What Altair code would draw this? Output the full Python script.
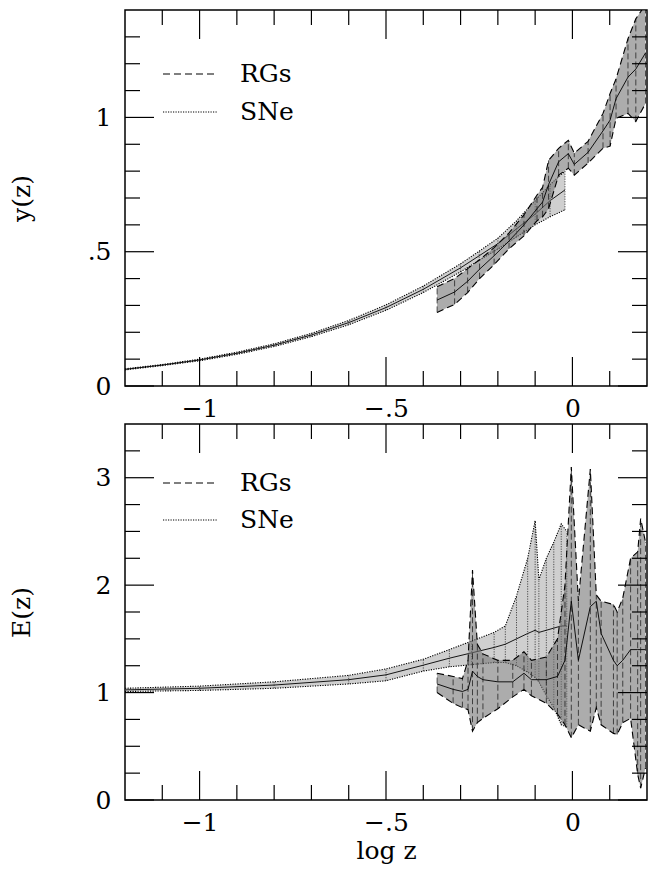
import altair as alt
import pandas as pd

# ---------------- data ----------------
# top panel: y(z) versus log z
top_rgs_lz = [-0.363, -0.316, -0.281, -0.249, -0.210, -0.170, -0.130, -0.095, -0.080, -0.064,
              -0.037, -0.011, 0.005, 0.042, 0.082, 0.101, 0.117, 0.149, 0.170, 0.196]
top_rgs_lo = [0.274, 0.304, 0.348, 0.400, 0.452, 0.511, 0.559, 0.615, 0.630, 0.660,
              0.785, 0.811, 0.785, 0.830, 0.885, 0.893, 0.996, 1.015, 0.985, 1.052]
top_rgs_hi = [0.370, 0.400, 0.437, 0.470, 0.515, 0.570, 0.637, 0.711, 0.740, 0.840,
              0.885, 0.915, 0.867, 0.911, 1.015, 1.089, 1.144, 1.293, 1.367, 1.420]
top_rgs_mid = [0.320, 0.350, 0.390, 0.435, 0.485, 0.540, 0.600, 0.660, 0.685, 0.750,
               0.835, 0.865, 0.825, 0.870, 0.950, 0.990, 1.070, 1.150, 1.180, 1.240]

top_sne_lz = [-1.20, -1.10, -1.00, -0.90, -0.80, -0.70, -0.60, -0.50, -0.40, -0.30,
              -0.25, -0.20, -0.15, -0.10, -0.06, -0.02]
top_sne_lo = [0.060, 0.076, 0.094, 0.118, 0.147, 0.184, 0.228, 0.282, 0.348, 0.425,
              0.468, 0.510, 0.555, 0.600, 0.630, 0.656]
top_sne_hi = [0.064, 0.080, 0.100, 0.126, 0.157, 0.196, 0.244, 0.302, 0.372, 0.455,
              0.502, 0.550, 0.615, 0.690, 0.750, 0.800]
top_sne_mid = [0.062, 0.078, 0.097, 0.122, 0.152, 0.190, 0.236, 0.292, 0.360, 0.440,
               0.485, 0.530, 0.585, 0.640, 0.690, 0.730]

# bottom panel: E(z) versus log z
bot_rgs_lz = [-0.363, -0.320, -0.295, -0.280, -0.268, -0.255, -0.240, -0.200, -0.160, -0.130,
              -0.110, -0.070, -0.040, -0.020, -0.003, 0.016, 0.048, 0.064, 0.077, 0.110,
              0.120, 0.135, 0.156, 0.175, 0.183, 0.196]
bot_rgs_lo = [1.00, 0.90, 0.86, 0.84, 0.64, 0.72, 0.76, 0.85, 0.96, 1.03,
              0.97, 0.90, 0.80, 0.70, 0.58, 0.70, 0.64, 0.86, 0.70, 0.62,
              0.61, 0.72, 0.76, 0.24, 0.11, 0.30]
bot_rgs_hi = [1.18, 1.15, 1.13, 1.30, 2.14, 1.45, 1.36, 1.30, 1.30, 1.38,
              1.30, 1.33, 1.50, 2.00, 3.10, 1.85, 3.08, 1.91, 1.85, 1.82,
              1.75, 1.88, 2.25, 2.31, 2.62, 2.40]
bot_rgs_mid = [1.08, 1.03, 1.01, 1.03, 1.20, 1.15, 1.12, 1.10, 1.10, 1.18,
               1.12, 1.12, 1.15, 1.30, 1.85, 1.30, 1.80, 1.85, 1.55, 1.30,
               1.25, 1.30, 1.40, 1.40, 1.40, 1.40]

bot_sne_lz = [-1.20, -1.00, -0.80, -0.60, -0.50, -0.40, -0.33, -0.27, -0.21, -0.18,
              -0.15, -0.12, -0.10, -0.09, -0.07, -0.05, -0.03, -0.015]
bot_sne_lo = [1.01, 1.02, 1.04, 1.08, 1.11, 1.20, 1.24, 1.26, 1.28, 1.28,
              1.25, 1.19, 1.14, 1.10, 0.97, 0.86, 0.70, 0.68]
bot_sne_hi = [1.04, 1.06, 1.10, 1.16, 1.22, 1.31, 1.40, 1.48, 1.56, 1.62,
              1.90, 2.25, 2.60, 2.05, 2.25, 2.40, 2.57, 2.50]
bot_sne_mid = [1.025, 1.04, 1.07, 1.12, 1.165, 1.255, 1.32, 1.37, 1.42, 1.45,
               1.50, 1.55, 1.58, 1.56, 1.58, 1.60, 1.62, 1.62]

# axes / ticks / labels
x_major = [-1.0, -0.5, 0.0]
x_major_text = ["\u22121", "\u2212.5", "0"]
x_minor = [-1.1, -0.9, -0.8, -0.7, -0.6, -0.4, -0.3, -0.2, -0.1, 0.1]

top_y_major = [0.0, 0.5, 1.0]
top_y_major_text = ["0", ".5", "1"]
top_y_minor = [0.1, 0.2, 0.3, 0.4, 0.6, 0.7, 0.8, 0.9, 1.1, 1.2, 1.3]

bot_y_major = [0.0, 1.0, 2.0, 3.0]
bot_y_major_text = ["0", "1", "2", "3"]
bot_y_minor = [0.25, 0.5, 0.75, 1.25, 1.5, 1.75, 2.25, 2.5, 2.75, 3.25]

legend_labels = ["RGs", "SNe"]

x_domain = [-1.2, 0.2]
top_y_domain = [0, 1.4]
bot_y_domain = [0, 3.5]

# ---------------- styling ----------------
FONT = "DejaVu Serif"
FS = 25
W, H = 522, 376
MAJ, MIN = 29, 15
DASH = [7, 4]
DOT = [1.2, 1.3]


def label_expr(vals, texts):
    expr = "''"
    for v, t in reversed(list(zip(vals, texts))):
        expr = f"abs(datum.value - ({v})) < 1e-6 ? '{t}' : ({expr})"
    return expr


def make_panel(rgs, sne, y_domain, y_major, y_major_text, y_minor, y_title,
               show_x_title, leg_y):
    xscale = alt.Scale(domain=x_domain, nice=False, zero=False)
    yscale = alt.Scale(domain=y_domain, nice=False, zero=False)
    xaxis = alt.Axis(values=x_major, labelExpr=label_expr(x_major, x_major_text),
                     ticks=False, domain=False, grid=False, labelPadding=10,
                     labelFlush=False, labelOverlap=False,
                     title="log z" if show_x_title else None, titlePadding=3)
    yaxis = alt.Axis(values=y_major, labelExpr=label_expr(y_major, y_major_text),
                     ticks=False, domain=False, grid=False, labelPadding=14,
                     labelFlush=False, labelOverlap=False,
                     title=y_title, titleX=-104, titleY=H / 2,
                     titleBaseline="middle", titleAlign="center")

    def X(f):
        return alt.X(f"{f}:Q", scale=xscale, axis=xaxis)

    def Y(f):
        return alt.Y(f"{f}:Q", scale=yscale, axis=yaxis)

    layers = []

    def band(lz, lo, hi, mid, fill, opacity, dash, bar_dash):
        df = pd.DataFrame({"lz": lz, "lo": lo, "hi": hi, "mid": mid})
        b = alt.Chart(df)
        out = [b.mark_area(color=fill, opacity=opacity, clip=True).encode(
            x=X("lz"), y=Y("lo"), y2="hi:Q")]
        # vertical error bars at each read point (hatched look of the original)
        out.append(b.mark_rule(color="black", strokeWidth=0.8, strokeDash=bar_dash,
                               opacity=0.8, clip=True).encode(
            x=X("lz"), y=Y("lo"), y2="hi:Q"))
        for f in ("lo", "hi"):
            out.append(b.mark_line(color="black", strokeWidth=1.1, strokeDash=dash,
                                   clip=True).encode(x=X("lz"), y=Y(f)))
        out.append(b.mark_line(color="black", strokeWidth=0.9, clip=True).encode(
            x=X("lz"), y=Y("mid")))
        return out

    layers += band(*sne, "#a8a8a8", 0.55, DOT, [1.2, 1.3])
    layers += band(*rgs, "#747474", 0.6, DASH, [6, 3])

    # inward ticks on all four sides
    for vals, L in ((x_major, MAJ), (x_minor, MIN)):
        d = alt.Chart(pd.DataFrame({"t": vals}))
        layers.append(d.mark_rule(color="black", strokeWidth=1.2).encode(
            x=X("t"), y=alt.value(H), y2=alt.value(H - L)))
        layers.append(d.mark_rule(color="black", strokeWidth=1.2).encode(
            x=X("t"), y=alt.value(0), y2=alt.value(L)))
    for vals, L in ((y_major, MAJ), (y_minor, MIN)):
        d = alt.Chart(pd.DataFrame({"t": vals}))
        layers.append(d.mark_rule(color="black", strokeWidth=1.2).encode(
            y=Y("t"), x=alt.value(0), x2=alt.value(L)))
        layers.append(d.mark_rule(color="black", strokeWidth=1.2).encode(
            y=Y("t"), x=alt.value(W), x2=alt.value(W - L)))

    # manual legend
    for lab, dash, yy in ((legend_labels[0], DASH, leg_y[0]), (legend_labels[1], DOT, leg_y[1])):
        d = alt.Chart(pd.DataFrame({"lab": [lab]}))
        layers.append(d.mark_rule(color="black", strokeWidth=1.2, strokeDash=dash).encode(
            x=alt.value(38), x2=alt.value(92), y=alt.value(yy)))
        layers.append(d.mark_text(font=FONT, fontSize=FS, align="left", baseline="middle",
                                  color="black").encode(
            text="lab:N", x=alt.value(115), y=alt.value(yy)))

    return alt.layer(*layers).properties(width=W, height=H)


top = make_panel(
    (top_rgs_lz, top_rgs_lo, top_rgs_hi, top_rgs_mid),
    (top_sne_lz, top_sne_lo, top_sne_hi, top_sne_mid),
    top_y_domain, top_y_major, top_y_major_text, top_y_minor, "y(z)", False, (64, 102))

bottom = make_panel(
    (bot_rgs_lz, bot_rgs_lo, bot_rgs_hi, bot_rgs_mid),
    (bot_sne_lz, bot_sne_lo, bot_sne_hi, bot_sne_mid),
    bot_y_domain, bot_y_major, bot_y_major_text, bot_y_minor, "E(z)", True, (59, 96))

chart = alt.vconcat(
    top, bottom, spacing=38, bounds="flush",
    padding={"left": 0, "top": 0, "right": 0, "bottom": 0},
).configure(
    font=FONT, background="white"
).configure_view(
    stroke="black", strokeWidth=1.5
).configure_axis(
    labelFont=FONT, titleFont=FONT, labelFontSize=FS, titleFontSize=FS,
    labelColor="black", titleColor="black", titleFontWeight="normal"
)

chart.save("out.html", embed_options={"renderer": "svg", "actions": False})
